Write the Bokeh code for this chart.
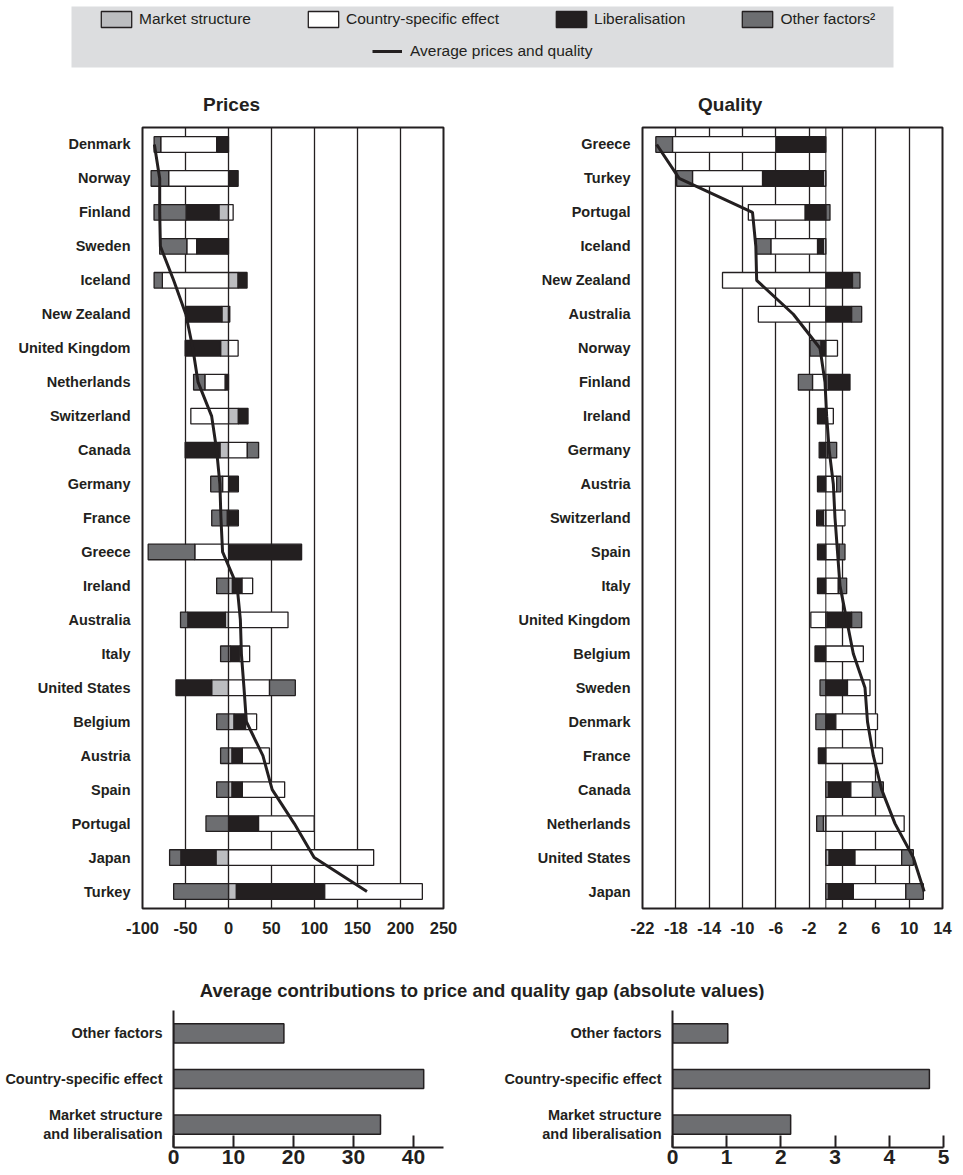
import numpy as np
from bokeh.plotting import figure
from bokeh.models import (FactorRange, Range1d, FixedTicker, Span, Label,
                          Legend, LegendItem, ColumnDataSource, CustomJSTickFormatter)
from bokeh.layouts import column, row
from bokeh.embed import file_html
from bokeh.resources import INLINE

INK = "#231f20"
C_MARKET = "#bcbdc0"
C_COUNTRY = "#ffffff"
C_LIB = "#231f20"
C_OTHER = "#6d6e71"
BOX = "#dcdddf"
SANS = "Liberation Sans"

# ---------------- data: prices (top to bottom) ----------------
price_countries = ["Denmark", "Norway", "Finland", "Sweden", "Iceland", "New Zealand",
                   "United Kingdom", "Netherlands", "Switzerland", "Canada", "Germany",
                   "France", "Greece", "Ireland", "Australia", "Italy", "United States",
                   "Belgium", "Austria", "Spain", "Portugal", "Japan", "Turkey"]
price_market = [0, 0, -11.2, -1.2, 11.2, -7.7, -9.2, 0, 11.5, -10.0, 0, 0, 0,
                4.6, -3.8, 2.3, -19.6, 6.5, 4.2, 4.2, 0, -14.6, 9.2]
price_lib = [-13.8, 11.2, -38.1, -35.8, 10.4, -41.9, -41.2, -4.0, 11.2, -40.4, 11.5,
             11.5, 85.0, 11.2, -43.5, 10.8, -41.5, 13.5, 11.9, 11.9, 35.0, -40.8, 102.7]
price_country = [-65.0, -69.6, 5.4, -11.5, -76.9, 1.5, 11.2, -23.5, -43.8, 21.9, -6.9,
                 -1.5, -39.2, 12.3, 69.2, 11.5, 47.7, 12.7, 31.5, 49.2, 64.6, 168.8, 113.5]
price_other = [-7.7, -20.4, -37.3, -31.5, -9.6, 0, 0, -13.1, 0, 13.1, -13.8,
               -18.0, -54.2, -13.8, -8.5, -9.2, 30.0, -13.8, -9.2, -13.8, -26.2, -13.1, -63.8]
price_avg = [-86.2, -80.0, -80.0, -79.2, -63.8, -49.6, -41.5, -35.4, -19.6, -13.8, -10.0,
             -8.8, -6.9, 10.0, 13.8, 15.0, 18.0, 20.8, 40.0, 50.8, 76.5, 99.6, 161.0]

# ---------------- data: quality (top to bottom) ----------------
qual_countries = ["Greece", "Turkey", "Portugal", "Iceland", "New Zealand", "Australia",
                  "Norway", "Finland", "Ireland", "Germany", "Austria", "Switzerland",
                  "Spain", "Italy", "United Kingdom", "Belgium", "Sweden", "Denmark",
                  "France", "Canada", "Netherlands", "United States", "Japan"]
qual_market = [0, -0.3, 0, -0.3, 0, 0, 0, 0.3, 0, 0, 0, -0.3, 0, 0, 0.2, 0, 0, 0,
               0, 0.3, -0.3, 0.4, 0.3]
qual_lib = [-6.0, -7.3, -2.5, -0.7, 3.2, 3.1, -0.6, 2.6, -1.0, -0.8, -1.0, -0.8,
            -1.0, -1.0, 2.9, -1.3, 2.6, 1.2, -0.9, 2.7, 0, 3.1, 3.0]
qual_country = [-12.4, -8.4, -6.8, -5.6, -12.4, -8.1, 1.4, -1.6, 0.9, 0.2, 1.3, 2.3,
                1.6, 1.5, -1.8, 4.5, 2.7, 5.0, 6.8, 2.6, 9.4, 5.6, 6.3]
qual_other = [-2.0, -1.9, 0.5, -1.8, 0.9, 1.2, -1.3, -1.7, 0, 1.1, 0.5, 0,
              0.7, 1.0, 1.2, 0, -0.7, -1.2, 0, 1.3, -0.8, 1.4, 2.1]
qual_avg = [-20.3, -17.6, -8.8, -8.4, -8.3, -3.9, -0.7, -0.1, 0.1, 0.4, 0.9, 1.1,
            1.4, 1.7, 2.5, 3.3, 4.7, 5.0, 5.7, 6.7, 8.3, 10.5, 11.8]

price_ticks = [-100, -50, 0, 50, 100, 150, 200, 250]
qual_ticks = [-22, -18, -14, -10, -6, -2, 2, 6, 10, 14]

# ---------------- data: average contributions ----------------
contrib_labels = ["Market structure\nand liberalisation", "Country-specific effect", "Other factors"]
contrib_price = [34.5, 41.7, 18.4]
contrib_quality = [2.18, 4.74, 1.02]
contrib_price_ticks = [0, 10, 20, 30, 40]
contrib_quality_ticks = [0, 1, 2, 3, 4, 5]

legend_names = ["Market structure", "Liberalisation", "Country-specific effect", "Other factors\u00b2"]
COMP_COLORS = [C_MARKET, C_LIB, C_COUNTRY, C_OTHER]

HYPHEN = CustomJSTickFormatter(code="return tick.toString();")


def stacked(comps):
    n = len(comps[0])
    pos = np.zeros(n)
    neg = np.zeros(n)
    out = []
    for vals in comps:
        v = np.asarray(vals, dtype=float)
        left = np.where(v >= 0, pos, neg + v)
        right = np.where(v >= 0, pos + v, neg)
        pos = pos + np.clip(v, 0, None)
        neg = neg + np.clip(v, None, 0)
        out.append((v, left, right))
    return out


def gap_panel(countries, comps, avg, xr, ticks, grid_ticks, width, bl, br, title, title_off, zero_line):
    p = figure(width=width, height=880, y_range=FactorRange(factors=countries[::-1]),
               x_range=Range1d(*xr), output_backend="svg", toolbar_location=None,
               min_border_left=bl, min_border_right=br, min_border_top=49, min_border_bottom=50,
               background_fill_color="white", border_fill_color="white", title=title)
    for (v, left, right), col in zip(stacked(comps), COMP_COLORS):
        keep = v != 0
        src = ColumnDataSource(dict(y=[c for c, k in zip(countries, keep) if k],
                                    left=left[keep], right=right[keep]))
        p.hbar(y="y", left="left", right="right", height=0.46, source=src,
               fill_color=col, line_color=INK, line_width=1.3)
    p.line(x=avg, y=countries, line_color=INK, line_width=3)
    if zero_line:
        p.add_layout(Span(location=0, dimension="height", line_color=INK, line_width=1))
    p.xgrid.ticker = FixedTicker(ticks=grid_ticks)
    p.xgrid.grid_line_color = INK
    p.xgrid.grid_line_width = 1.3
    p.ygrid.grid_line_color = None
    p.outline_line_color = INK
    p.outline_line_width = 2
    p.xaxis.ticker = FixedTicker(ticks=ticks)
    p.xaxis.formatter = HYPHEN
    p.xaxis.axis_line_color = None
    p.xaxis.major_tick_line_color = None
    p.xaxis.major_tick_out = 0
    p.xaxis.minor_tick_line_color = None
    p.xaxis.minor_tick_out = 0
    p.xaxis.major_label_text_font = SANS
    p.xaxis.major_label_text_font_size = "16.5px"
    p.xaxis.major_label_text_font_style = "bold"
    p.xaxis.major_label_text_color = INK
    p.xaxis.major_label_standoff = 13
    p.yaxis.axis_line_color = None
    p.yaxis.major_tick_line_color = None
    p.yaxis.major_tick_out = 0
    p.yaxis.major_label_text_font = SANS
    p.yaxis.major_label_text_font_size = "14.5px"
    p.yaxis.major_label_text_font_style = "bold"
    p.yaxis.major_label_text_color = INK
    p.yaxis.major_label_standoff = 12
    p.title.align = "left"
    p.title.offset = title_off
    p.title.standoff = 26
    p.title.text_font = SANS
    p.title.text_font_size = "19px"
    p.title.text_font_style = "bold"
    p.title.text_color = INK
    return p


p1 = gap_panel(price_countries, [price_market, price_lib, price_country, price_other],
               price_avg, (-100, 250), price_ticks, price_ticks[1:-1], 471, 142, 28,
               "Prices", 60.5, False)
p2 = gap_panel(qual_countries, [qual_market, qual_lib, qual_country, qual_other],
               qual_avg, (-22, 14), qual_ticks, qual_ticks[1:-1], 492, 171, 21,
               "Quality", 55.5, True)

# ---------------- legend strip ----------------
leg = figure(width=963, height=78, x_range=Range1d(0, 1), y_range=Range1d(0, 1),
             x_axis_type=None, y_axis_type=None, output_backend="svg", toolbar_location=None,
             min_border_left=71, min_border_right=70, min_border_top=6, min_border_bottom=11,
             background_fill_color=BOX, border_fill_color="white")
leg.outline_line_color = None
rend = {}
for nm, col in zip(legend_names, COMP_COLORS):
    rend[nm] = leg.quad(left=[2], right=[3], top=[3], bottom=[2], fill_color=col,
                        line_color=INK, line_width=1.3)
rl = leg.line(x=[2, 3], y=[2, 2], line_color=INK, line_width=3)
order = ["Market structure", "Country-specific effect", "Liberalisation", "Other factors\u00b2"]
common = dict(orientation="horizontal", padding=0, margin=0,
              label_text_font=SANS, label_text_font_size="15.5px", label_text_color=INK,
              border_line_color=None, background_fill_alpha=0)
leg.add_layout(Legend(items=[LegendItem(label=nm, renderers=[rend[nm]]) for nm in order],
                      location=(26, 38), spacing=53, glyph_width=38, glyph_height=20,
                      label_height=16, label_standoff=4, **common))
leg.add_layout(Legend(items=[LegendItem(label="Average prices and quality", renderers=[rl])],
                      location=(301, 7), spacing=53, glyph_width=30, glyph_height=16,
                      label_height=16, label_standoff=8, **common))

# ---------------- bottom title ----------------
tf = figure(width=963, height=42, x_range=Range1d(0, 963), y_range=Range1d(0, 42),
            x_axis_type=None, y_axis_type=None, output_backend="svg", toolbar_location=None,
            min_border=0, border_fill_color="white", background_fill_color="white")
tf.outline_line_color = None
tf.add_layout(Label(x=481, y=10, text="Average contributions to price and quality gap (absolute values)",
                    text_align="center", text_baseline="middle", text_font=SANS,
                    text_font_size="18.5px", text_font_style="bold", text_color=INK))


def avg_panel(vals, xr, ticks, width, bl, br):
    p = figure(width=width, height=175, y_range=FactorRange(factors=contrib_labels),
               x_range=Range1d(*xr), output_backend="svg", toolbar_location=None,
               min_border_left=bl, min_border_right=br, min_border_top=10, min_border_bottom=28,
               background_fill_color="white", border_fill_color="white")
    p.hbar(y=contrib_labels, left=0, right=vals, height=0.42, fill_color=C_OTHER,
           line_color=INK, line_width=1.5)
    p.outline_line_color = None
    p.xgrid.grid_line_color = None
    p.ygrid.grid_line_color = None
    p.xaxis.ticker = FixedTicker(ticks=ticks)
    p.xaxis.formatter = HYPHEN
    p.xaxis.axis_line_width = 2
    p.xaxis.axis_line_color = INK
    p.xaxis.major_tick_in = 12
    p.xaxis.major_tick_out = 0
    p.xaxis.major_tick_line_width = 2
    p.xaxis.major_tick_line_color = INK
    p.xaxis.minor_tick_line_color = None
    p.xaxis.minor_tick_out = 0
    p.xaxis.major_label_text_font = SANS
    p.xaxis.major_label_text_font_size = "21px"
    p.xaxis.major_label_text_font_style = "bold"
    p.xaxis.major_label_text_color = INK
    p.xaxis.major_label_standoff = 2
    p.yaxis.axis_line_width = 2
    p.yaxis.axis_line_color = INK
    p.yaxis.major_tick_line_color = None
    p.yaxis.major_tick_out = 0
    p.yaxis.major_label_text_font = SANS
    p.yaxis.major_label_text_font_size = "14.5px"
    p.yaxis.major_label_text_font_style = "bold"
    p.yaxis.major_label_text_color = INK
    p.yaxis.major_label_standoff = 11
    return p


b1 = avg_panel(contrib_price, (0, 45), contrib_price_ticks, 471, 173, 28)
b2 = avg_panel(contrib_quality, (0, 5), contrib_quality_ticks, 492, 201, 20)

layout = column(leg, row(p1, p2), tf, row(b1, b2))
open("out.html", "w").write(file_html(layout, INLINE))
